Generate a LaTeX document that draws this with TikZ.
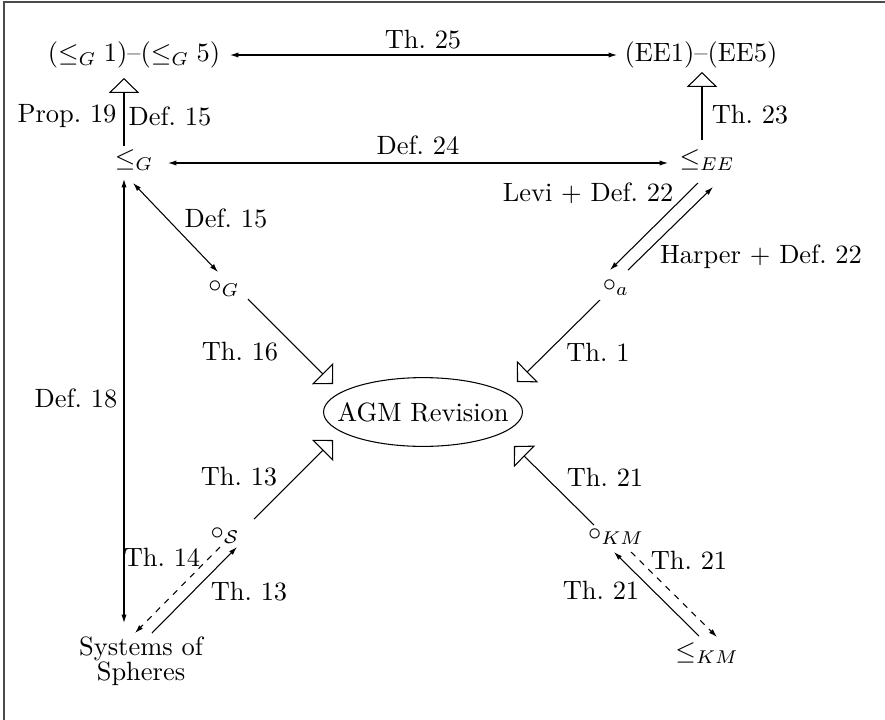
\documentclass[tikz,border=0pt]{standalone}
\usetikzlibrary{arrows.meta,calc}
\tikzset{
  lbl/.style={inner sep=0pt},
  conn/.style={line width=0.4pt},
  onetip/.style={conn,-{Latex[length=3.2pt,width=2.0pt]}},
  twotip/.style={conn,{Latex[length=3.2pt,width=2.0pt]}-{Latex[length=3.2pt,width=2.0pt]}},
  opentri/.style={conn,-{Triangle[open,length=5.6pt,width=11.4pt]}},
  dashline/.style={dash pattern=on 2.3pt off 2.3pt},
}
\begin{document}
\begin{tikzpicture}[x=0.378pt,y=-0.378pt]
\useasboundingbox (0,0) rectangle (885,720);
\draw[black!70,line width=0.6pt] (4,722) -- (4,2) -- (888,2);

% nodes
\node[lbl] (lG15) at (134,55) {$(\le_G 1)$--$(\le_G 5)$};
\node[lbl] (EE15) at (701,55) {(EE1)--(EE5)};
\node[lbl] (lG) at (134,160) {$\le_G$};
\node[lbl] (lEE) at (707,160) {$\le_{EE}$};
\node[lbl] (oG) at (224,289) {$\circ_G$};
\node[lbl] (oa) at (616,288) {$\circ_a$};
\node[lbl] (AGM) at (423,412) {AGM Revision};
\draw[conn] (AGM) ellipse [x radius=37.6pt, y radius=13.0pt];
\node[lbl] (oS) at (225,536) {$\circ_{\mathcal{S}}$};
\node[lbl] (oKM) at (616,537) {$\circ_{KM}$};
\node[lbl,align=center] (SoS) at (141,661) {Systems of\\[-2.7pt]Spheres};
\node[lbl] (lKM) at (707,653) {$\le_{KM}$};

% connectors
\draw[twotip] ($(lG15)+(96,0)$) -- ($(EE15)+(-84,0)$);
\draw[opentri] ($(lG)+(-10,-14)$) -- ($(lG15)+(-10,23)$);
\draw[opentri] ($(lEE)+(-5,-20)$) -- ($(EE15)+(1,17)$);
\draw[twotip] ($(lG)+(34,3)$) -- ($(lEE)+(-39,3)$);
\draw[twotip] ($(lG)+(-10,19)$) -- ($(SoS)+(-17,-38)$);
\draw[twotip] ($(lG)+(-1,23)$) -- ($(oG)+(-6,-17)$);
\draw[onetip] ($(lEE)+(-9,23)$) -- ($(oa)+(-6,-18)$);
\draw[onetip] ($(oa)+(12,-18)$) -- ($(lEE)+(6,27)$);
\draw[opentri] ($(oG)+(24,10)$) -- ($(AGM)+(-90,-28)$);
\draw[opentri] ($(oa)+(-16,12)$) -- ($(AGM)+(94,-30)$);
\draw[opentri] ($(oS)+(29,-17)$) -- ($(AGM)+(-90,28)$);
\draw[opentri] ($(oKM)+(-22,-12)$) -- ($(AGM)+(91,34)$);
\draw[onetip,dashline] ($(oS)+(-5,11)$) -- ($(SoS)+(-6,-28)$);
\draw[onetip] ($(SoS)+(11,-28)$) -- ($(oS)+(12,11)$);
\draw[onetip,dashline] ($(oKM)+(15,15)$) -- ($(lKM)+(10,-16)$);
\draw[onetip] ($(lKM)+(-8,-17)$) -- ($(oKM)+(-2,15)$);

% labels
\node[lbl] (t25) at (423,40) {Th.~25};
\node[lbl] (d24) at (418,145) {Def.~24};
\node[lbl] (p19) at (67,116) {Prop.~19};
\node[lbl] (d15a) at (170,116) {Def.~15};
\node[lbl] (t23) at (750,115) {Th.~23};
\node[lbl] (d15b) at (226,218) {Def.~15};
\node[lbl] (levi) at (588,193) {Levi + Def.~22};
\node[lbl] (harp) at (761,257) {Harper + Def.~22};
\node[lbl] (t16) at (240,352) {Th.~16};
\node[lbl] (t1) at (598,352) {Th.~1};
\node[lbl] (d18) at (76,398) {Def.~18};
\node[lbl] (t13a) at (239,477) {Th.~13};
\node[lbl] (t21a) at (605,477) {Th.~21};
\node[lbl] (t14) at (162,557) {Th.~14};
\node[lbl] (t13b) at (249,592) {Th.~13};
\node[lbl] (t21b) at (689,560) {Th.~21};
\node[lbl] (t21c) at (601,590) {Th.~21};
\end{tikzpicture}
\end{document}
